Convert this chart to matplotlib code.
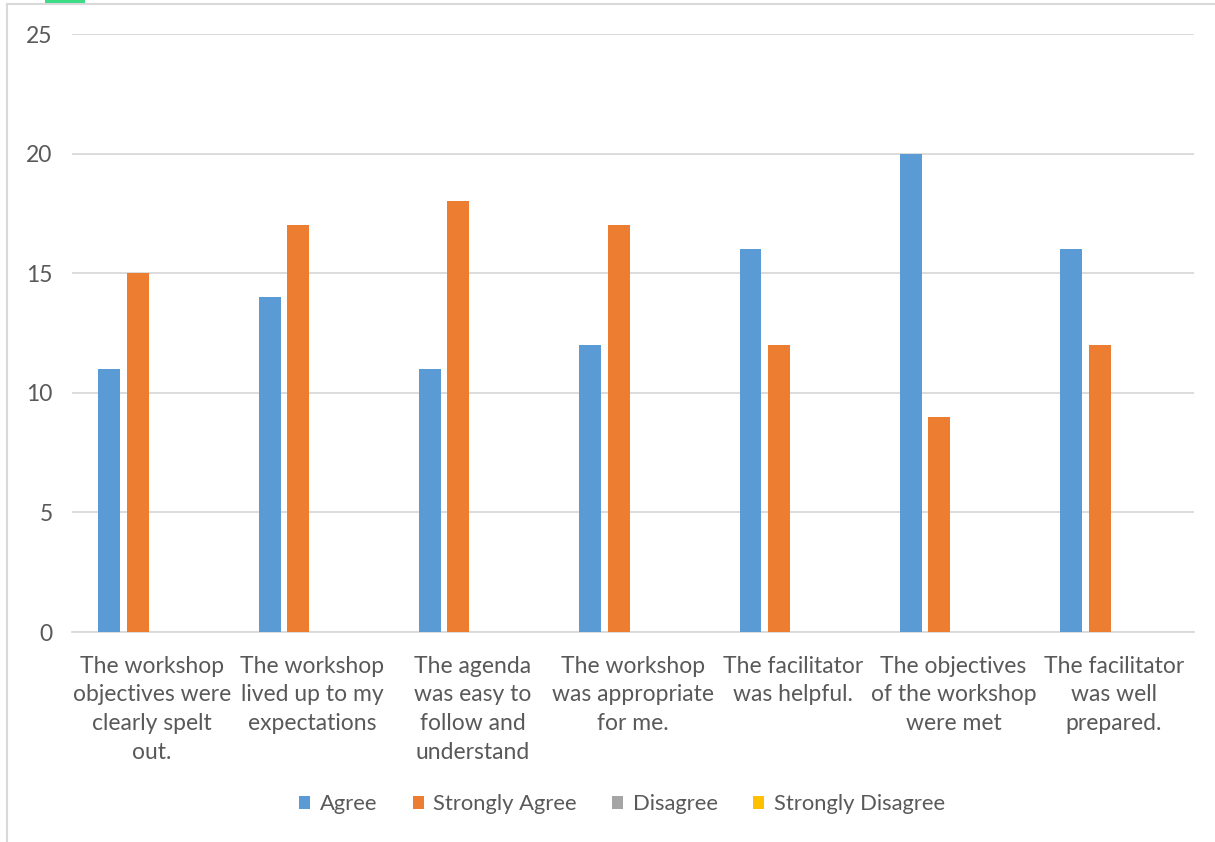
import matplotlib
matplotlib.use("Agg")
import matplotlib.pyplot as plt
from matplotlib.patches import Rectangle
import numpy as np

categories = [
    "The workshop\nobjectives were\nclearly spelt\nout.",
    "The workshop\nlived up to my\nexpectations",
    "The agenda\nwas easy to\nfollow and\nunderstand",
    "The workshop\nwas appropriate\nfor me.",
    "The facilitator\nwas helpful.",
    "The objectives\nof the workshop\nwere met",
    "The facilitator\nwas well\nprepared.",
]
series_names = ["Agree", "Strongly Agree", "Disagree", "Strongly Disagree"]
agree = [11, 14, 11, 12, 16, 20, 16]
strongly_agree = [15, 17, 18, 17, 12, 9, 12]
disagree = [0, 0, 0, 0, 0, 0, 0]
strongly_disagree = [0, 0, 0, 0, 0, 0, 0]
colors = ["#5B9BD5", "#ED7D31", "#A5A5A5", "#FFC000"]
yticks = [0, 5, 10, 15, 20, 25]

plt.rcParams['font.family'] = ['Lato', 'DejaVu Sans']
text_color = "#595959"
fs = 16.5

fig = plt.figure(figsize=(12.15, 8.42), dpi=100)
ax = fig.add_axes([0.0593, 0.2494, 0.9234, 0.7102])

x = np.arange(len(categories))
slot = 0.178
width = 0.137
data = [agree, strongly_agree, disagree, strongly_disagree]
for i, (vals, name, c) in enumerate(zip(data, series_names, colors)):
    ax.bar(x + (i - 1.5) * slot, vals, width=width, color=c, label=name, zorder=3)

ax.set_xlim(-0.5, len(categories) - 0.5)
ax.set_ylim(0, 25)
ax.set_yticks(yticks)
ax.set_yticklabels([str(t) for t in yticks], fontsize=fs, color=text_color)
ax.set_xticks(x)
ax.set_xticklabels(categories, fontsize=fs, color=text_color, linespacing=1.45, va="top")
ax.tick_params(axis="both", length=0)
ax.tick_params(axis="x", pad=17)
ax.tick_params(axis="y", pad=14)
ax.grid(axis="y", color="#d9d9d9", linewidth=1.3, zorder=0)
for s in ["top", "right", "left"]:
    ax.spines[s].set_visible(False)
ax.spines["bottom"].set_color("#d9d9d9")
ax.spines["bottom"].set_linewidth(1.3)

leg = fig.legend(loc="center", bbox_to_anchor=(0.512, 0.045), ncol=4, frameon=False,
                 fontsize=15.8, handlelength=0.5, handleheight=0.5, handletextpad=0.45,
                 columnspacing=1.6)
for t in leg.get_texts():
    t.set_color(text_color)

# chart frame (top and left edges visible)
fig.add_artist(plt.Line2D([7/1215, 1], [1 - 4/842, 1 - 4/842], transform=fig.transFigure,
                          color="#d9d9d9", linewidth=1.5))
fig.add_artist(plt.Line2D([7/1215, 7/1215], [0, 1 - 4/842], transform=fig.transFigure,
                          color="#d9d9d9", linewidth=1.5))
fig.add_artist(Rectangle((45/1215, 1 - 3/842), 40/1215, 3/842, transform=fig.transFigure,
                         color="#3ddc84", linewidth=0))

fig.savefig("out.png", dpi=100)
